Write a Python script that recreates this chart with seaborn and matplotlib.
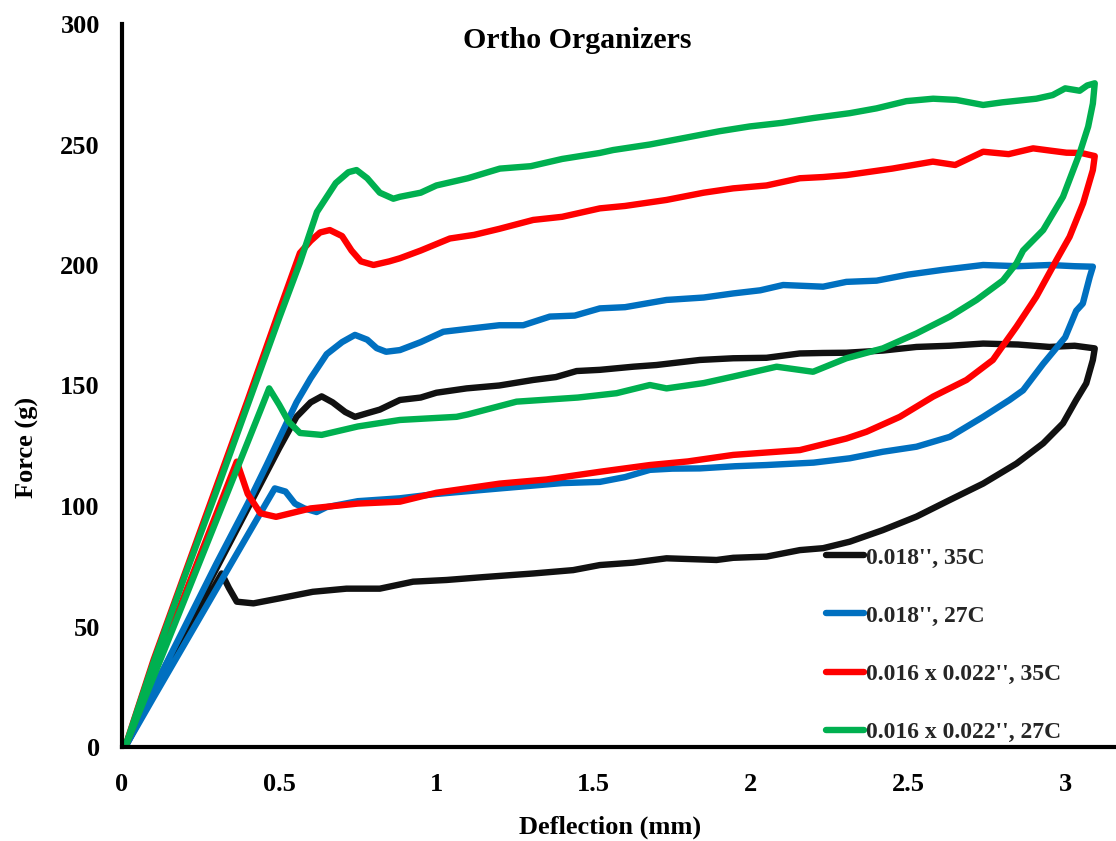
import numpy as np
import pandas as pd
import matplotlib
matplotlib.use("Agg")
import matplotlib.pyplot as plt
import seaborn as sns

# ---------------- data ----------------
labels = ["0.018'', 35C", "0.018'', 27C", "0.016 x 0.022'', 35C", "0.016 x 0.022'', 27C"]
colors = ["#111111", "#0070C0", "#FF0000", "#00B050"]

# 0.018'', 35C
black_x = [0.01, 0.1, 0.2, 0.3, 0.4, 0.5, 0.555, 0.6, 0.635, 0.67, 0.71, 0.741, 0.78, 0.82, 0.884, 0.95, 1.0,
           1.096, 1.2, 1.308, 1.38, 1.446, 1.52, 1.626, 1.7, 1.838, 1.944, 2.05, 2.156, 2.23, 2.304, 2.42, 2.527,
           2.633, 2.739, 2.85, 2.95, 3.03, 3.094,
           3.088, 3.067, 3.035, 2.993, 2.93, 2.845, 2.739, 2.633, 2.527, 2.42, 2.315, 2.23, 2.156, 2.05, 1.944,
           1.891, 1.8, 1.732, 1.626, 1.52, 1.435, 1.308, 1.244, 1.15, 1.032, 0.926, 0.82, 0.714, 0.607, 0.502,
           0.418, 0.365, 0.34, 0.317, 0.2, 0.1, 0.01]
black_y = [0, 24, 49, 74, 99, 124, 137, 143, 145.5, 143, 139, 137, 138.5, 140, 144, 145, 147,
           148.8, 150, 152.3, 153.5, 156, 156.5, 157.8, 158.5, 160.6, 161.3, 161.5, 163.3, 163.5, 163.6, 164.5, 166,
           166.5, 167.4, 167, 166, 166.5, 165.4,
           160.6, 150.9, 144, 134.3, 126, 117.6, 109.3, 102.5, 95.6, 90, 85.2, 82.5, 81.7, 79, 78.5,
           77.6, 78, 78.3, 76.5, 75.5, 73.4, 72, 71.4, 70.5, 69.3, 68.6, 65.7, 65.7, 64.4, 61.7,
           59.6, 60.3, 66, 72, 45, 22, 0]

# 0.018'', 27C
blue_x = [0.01, 0.1, 0.2, 0.3, 0.4, 0.46, 0.5, 0.555, 0.6, 0.651, 0.7, 0.741, 0.78, 0.81, 0.84, 0.884, 0.95,
          1.022, 1.1, 1.2, 1.276, 1.361, 1.44, 1.52, 1.6, 1.732, 1.85, 1.944, 2.03, 2.103, 2.23, 2.304, 2.4, 2.5,
          2.611, 2.739, 2.85, 2.95, 3.03, 3.088,
          3.078, 3.056, 3.035, 3.0, 2.93, 2.866, 2.823, 2.739, 2.633, 2.527, 2.42, 2.315, 2.2, 2.05, 1.95, 1.838,
          1.75, 1.679, 1.6, 1.52, 1.4, 1.202, 1.0, 0.884, 0.75, 0.65, 0.619, 0.58, 0.55, 0.52, 0.486, 0.46,
          0.3, 0.2, 0.1, 0.01]
blue_y = [0, 24, 50, 76, 101, 117, 128, 143, 153, 163, 168, 171, 169, 165.5, 164, 164.7, 168,
          172.3, 173.5, 175, 175, 178.6, 179, 182, 182.5, 185.5, 186.5, 188.2, 189.5, 191.7, 191, 193, 193.5, 196,
          198, 200, 199.5, 200, 199.5, 199.3,
          195, 184, 181, 170, 159, 148, 144, 137, 128.7, 124.6, 122.5, 119.8, 118, 117, 116.5, 115.6,
          115.5, 115, 112, 110, 109.5, 107.3, 105, 103.2, 102, 99.5, 97.5, 99, 101, 106, 107.3, 101.5,
          65.5, 43, 20.5, 0]

# 0.016 x 0.022'', 35C
red_x = [0.01, 0.1, 0.2, 0.3, 0.4, 0.5, 0.566, 0.6, 0.63, 0.661, 0.7, 0.73, 0.76, 0.8, 0.85, 0.884, 0.95,
         1.043, 1.12, 1.2, 1.308, 1.4, 1.52, 1.6, 1.732, 1.85, 1.944, 2.05, 2.156, 2.23, 2.304, 2.45, 2.579,
         2.65, 2.739, 2.82, 2.898, 2.95, 3.004, 3.05, 3.094,
         3.088, 3.057, 3.014, 2.972, 2.908, 2.845, 2.792, 2.77, 2.686, 2.58, 2.474, 2.368, 2.304, 2.156, 1.944,
         1.8, 1.679, 1.52, 1.35, 1.202, 1.0, 0.884, 0.75, 0.6, 0.49, 0.44, 0.4, 0.365, 0.3, 0.2, 0.1, 0.01]
red_y = [0, 36, 72, 108, 144, 181, 205, 210, 213.5, 214.5, 212, 206, 201.5, 200, 201.5, 202.8, 206,
         211, 212.5, 215, 218.7, 220, 223.5, 224.5, 227, 230, 231.8, 233, 236, 236.5, 237.3, 240, 242.9,
         241.5, 247, 246, 248.4, 247.5, 246.6, 246.5, 245.2,
         239.4, 225.6, 211.7, 202, 186.8, 174.4, 164.7, 160.6, 152.3, 145.4, 137, 130.8, 128, 123.2, 121.2,
         118.5, 117, 114.2, 111, 109.3, 105.5, 101.8, 101, 99, 95.5, 97, 105, 118.4, 96.7, 63.4, 30, 0]

# 0.016 x 0.022'', 27C
green_x = [0.01, 0.1, 0.2, 0.3, 0.4, 0.5, 0.566, 0.62, 0.68, 0.72, 0.746, 0.78, 0.82, 0.863, 0.884, 0.95, 1.0,
           1.1, 1.202, 1.3, 1.4, 1.52, 1.562, 1.679, 1.8, 1.9, 1.997, 2.1, 2.2, 2.315, 2.4, 2.495, 2.58, 2.654,
           2.739, 2.8, 2.908, 2.96, 3.0, 3.046, 3.07, 3.094,
           3.088, 3.073, 3.046, 2.993, 2.93, 2.866, 2.845, 2.802, 2.718, 2.633, 2.527, 2.42, 2.304, 2.198, 2.082,
           1.944, 1.85, 1.732, 1.679, 1.573, 1.45, 1.255, 1.1, 1.064, 0.884, 0.75, 0.635, 0.566, 0.53, 0.5, 0.468,
           0.44, 0.3, 0.2, 0.1, 0.01]
green_y = [0, 35, 71, 106, 142, 178, 201, 222, 234, 238.5, 239.4, 236, 230, 227.5, 228.3, 230, 233,
           236, 240, 241, 244, 246.5, 247.7, 250, 253, 255.5, 257.5, 259, 261, 263, 265, 268, 269, 268.5,
           266.4, 267.5, 269, 270.5, 273.3, 272.3, 274.5, 275.4,
           267, 257.4, 246.4, 228.3, 214.5, 206, 200.7, 193.6, 185.5, 178.6, 171.6, 165.4, 161.3, 155.7, 157.8,
           153.7, 151, 148.8, 150.2, 146.8, 145, 143.3, 138, 137, 135.7, 133, 129.5, 130.3, 135, 142, 148.8,
           139.6, 94, 61.5, 29, 0]

x_ticks = [0, 0.5, 1, 1.5, 2, 2.5, 3]
x_tick_labels = ["0", "0.5", "1", "1.5", "2", "2.5", "3"]
y_ticks = [0, 50, 100, 150, 200, 250, 300]

# ---------------- plotting ----------------
sns.set_theme(style="white")
plt.rcParams["font.family"] = ["Liberation Serif", "DejaVu Serif"]
plt.rcParams["font.weight"] = "bold"

W, H = 1116, 841
fig = plt.figure(figsize=(W / 100, H / 100), dpi=100)
ax = fig.add_axes([122 / W, 1 - 747 / H, 1 - 122 / W, (747 - 24) / H])

series = [(black_x, black_y), (blue_x, blue_y), (red_x, red_y), (green_x, green_y)]
for (xs, ys), lab, col in zip(series, labels, colors):
    df = pd.DataFrame({"x": xs, "y": ys})
    sns.lineplot(data=df, x="x", y="y", sort=False, estimator=None, color=col,
                 linewidth=4.6, label=lab, ax=ax, solid_capstyle="round", solid_joinstyle="round")

ax.set_xlim(0, 994 / 314.4)
ax.set_ylim(0, 300)
ax.set_xticks(x_ticks)
ax.set_xticklabels(x_tick_labels)
ax.set_yticks(y_ticks)

for s in ["top", "right"]:
    ax.spines[s].set_visible(False)
for s in ["left", "bottom"]:
    ax.spines[s].set_linewidth(3)
    ax.spines[s].set_color("black")
ax.tick_params(axis="both", direction="out", length=5, width=3, color="black",
               labelsize=19, labelcolor="black")
ax.tick_params(axis="x", pad=14)
ax.tick_params(axis="y", pad=11)
for t in ax.get_xticklabels() + ax.get_yticklabels():
    t.set_fontweight("bold")

ax.set_xlabel("")
ax.set_ylabel("")
fig.text(610 / W, 1 - 827 / H, "Deflection (mm)", ha="center", va="center",
         fontsize=19, fontweight="bold", color="black")
fig.text(27.5 / W, 1 - 447 / H, "Force (g)", ha="center", va="center", rotation=90,
         fontsize=19, fontweight="bold", color="black")

fig.text(577.5 / W, 1 - 40 / H, "Ortho Organizers", ha="center", va="center",
         fontsize=21.5, fontweight="bold", color="black")

leg = ax.legend(loc="upper left", bbox_to_anchor=(826 / W, 1 - 547 / H),
                bbox_transform=fig.transFigure, frameon=False, fontsize=17,
                handlelength=1.6, handletextpad=0.1, labelspacing=1.55,
                borderpad=0, borderaxespad=0)
for t in leg.get_texts():
    t.set_fontweight("bold")

fig.savefig("out.png", dpi=100)
